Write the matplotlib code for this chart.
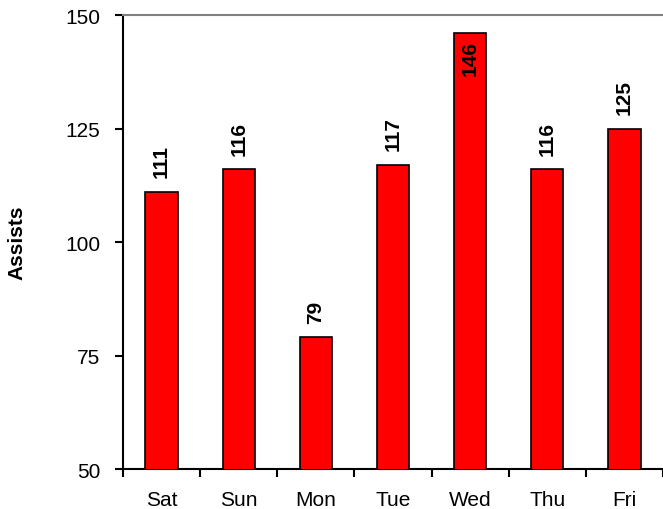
import numpy as np
import matplotlib.pyplot as plt

plt.rcParams['font.family'] = ['Liberation Sans', 'DejaVu Sans']

# Data
days = ['Sat', 'Sun', 'Mon', 'Tue', 'Wed', 'Thu', 'Fri']
assists = [111, 116, 79, 117, 146, 116, 125]

fig = plt.figure(figsize=(6.63, 5.10), dpi=100)
ax = fig.add_axes([0.1855, 0.0784, 0.8145, 0.8902])

x = np.arange(len(days))
ax.bar(x, assists, width=0.42, color='#ff0000', edgecolor='black', linewidth=1.2, zorder=3)

# value labels, rotated; the one near the top goes inside the bar
for xi, v in zip(x, assists):
    if v > 140:
        ax.annotate(str(v), (xi, v), xytext=(0, -5), textcoords='offset points',
                    ha='center', va='top', rotation=90, fontsize=15, fontweight='bold', zorder=4)
    else:
        ax.annotate(str(v), (xi, v), xytext=(0, 10.5), textcoords='offset points',
                    ha='center', va='bottom', rotation=90, fontsize=15, fontweight='bold', zorder=4)

ax.set_xlim(-0.5, len(days) - 0.5)
ax.set_ylim(50, 150)
ax.set_yticks([50, 75, 100, 125, 150])
ax.set_xticks(x)
ax.set_xticklabels(days)
ax.set_xticks(np.arange(-0.5, len(days), 1), minor=True)
ax.tick_params(axis='x', which='major', length=0, pad=15, labelsize=15)
ax.tick_params(axis='x', which='minor', length=6, width=1.5, direction='out')
ax.tick_params(axis='y', length=6, width=1.5, direction='out', labelsize=15, pad=10.5)

ax.set_ylabel('Assists', fontsize=15, fontweight='bold', labelpad=28)

ax.spines['right'].set_visible(False)
ax.spines['top'].set_color('#808080')
ax.spines['top'].set_linewidth(1.5)
ax.spines['left'].set_linewidth(1.5)
ax.spines['bottom'].set_linewidth(1.5)

fig.savefig('out.png', dpi=100)
